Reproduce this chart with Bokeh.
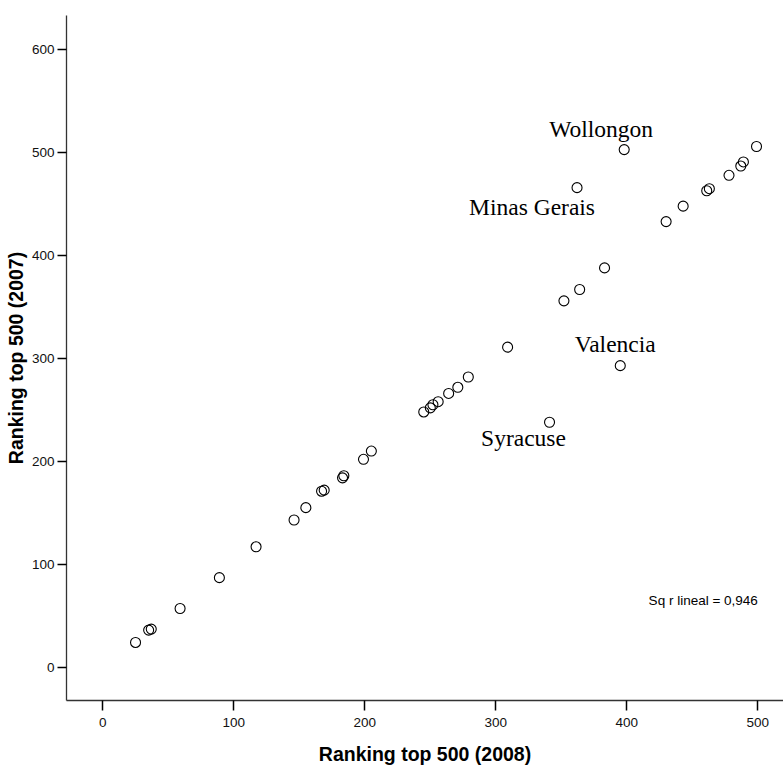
from bokeh.plotting import figure
from bokeh.models import ColumnDataSource, LabelSet, Label, SingleIntervalTicker, Range1d
from bokeh.embed import file_html
from bokeh.resources import INLINE

# --- data ---
rank_2008 = [25, 35, 37, 59, 89, 117, 146, 155, 167, 169, 183, 184, 199, 205,
             245, 250, 252, 256, 264, 271, 279, 309, 341, 352, 362, 364, 383,
             395, 398, 430, 443, 461, 463, 478, 487, 489, 499]
rank_2007 = [24, 36, 37, 57, 87, 117, 143, 155, 171, 172, 184, 186, 202, 210,
             248, 252, 255, 258, 266, 272, 282, 311, 238, 356, 466, 367, 388,
             293, 503, 433, 448, 463, 465, 478, 487, 491, 506]

label_names = ["Wollongon", "Minas Gerais", "Valencia", "Syracuse"]
label_index = [28, 24, 27, 22]   # positions in the arrays above

fit_text = "Sq r lineal = 0,946"
x_title = "Ranking top 500 (2008)"
y_title = "Ranking top 500 (2007)"

# --- figure ---
p = figure(width=783, height=769, output_backend="svg", toolbar_location=None,
           x_range=Range1d(-27.7, 519.6), y_range=Range1d(-32.4, 633.3),
           min_border_left=66, min_border_right=0, min_border_top=15,
           min_border_bottom=69)
p.outline_line_color = None
p.grid.visible = False
p.background_fill_color = "white"
p.border_fill_color = "white"

p.scatter(rank_2008, rank_2007, marker="circle", size=10, fill_color=None,
          line_color="black", line_width=1.1)

lab_src = ColumnDataSource(dict(
    x=[rank_2008[i] for i in label_index],
    y=[rank_2007[i] for i in label_index],
    name=label_names,
    xo=[-23, -45, -5, -26],
    yo=[13, -27, 14, -24],
))
p.add_layout(LabelSet(x="x", y="y", text="name", source=lab_src,
                      x_offset="xo", y_offset="yo", text_align="center",
                      text_baseline="alphabetic", text_font="Liberation Serif",
                      text_font_size="23.5px", text_color="black"))

p.add_layout(Label(x=500, y=65, text=fit_text, text_align="right",
                   text_baseline="alphabetic", text_font="Liberation Sans",
                   text_font_size="13.5px", text_color="black"))

for ax in (p.xaxis[0], p.yaxis[0]):
    ax.ticker = SingleIntervalTicker(interval=100, num_minor_ticks=0)
    ax.axis_line_color = "#333333"
    ax.axis_line_width = 1.3
    ax.major_tick_line_color = "black"
    ax.major_tick_line_width = 1.5
    ax.major_tick_in = 0
    ax.minor_tick_line_color = None
    ax.major_label_text_font = "Liberation Sans"
    ax.major_label_text_font_size = "13.5px"
    ax.major_label_text_color = "#111111"
    ax.axis_label_text_font = "Liberation Sans"
    ax.axis_label_text_font_size = "19.5px"
    ax.axis_label_text_font_style = "bold"
    ax.axis_label_text_color = "black"

p.xaxis[0].axis_label = x_title
p.xaxis[0].major_tick_out = 10
p.xaxis[0].major_label_standoff = 7
p.xaxis[0].axis_label_standoff = 13

p.yaxis[0].axis_label = y_title
p.yaxis[0].major_tick_out = 9
p.yaxis[0].major_label_standoff = 3
p.yaxis[0].axis_label_standoff = 2

open("out.html", "w").write(file_html(p, INLINE))
